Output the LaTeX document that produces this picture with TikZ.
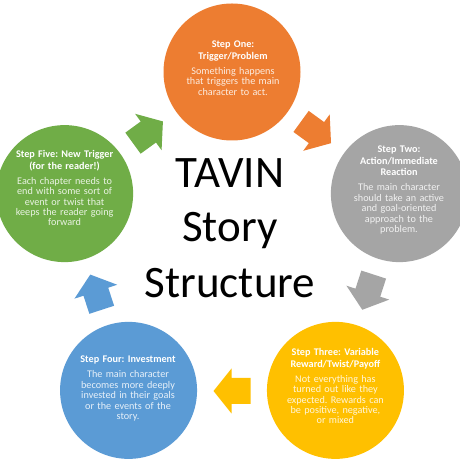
\documentclass[tikz,border=0pt]{standalone}
\usepackage{fontspec}
\setmainfont{Carlito}
\frenchspacing
\definecolor{corange}{HTML}{ED7D31}
\definecolor{cgrey}{HTML}{A5A5A5}
\definecolor{cyellow}{HTML}{FFC000}
\definecolor{cblue}{HTML}{5B9BD5}
\definecolor{cgreen}{HTML}{70AD47}
\newcommand\sttitle{\bfseries\fontsize{10.2}{11.5}\selectfont}
\newcommand\stbody{\fontsize{10.2}{10.4}\selectfont}
\tikzset{
  stepcircle/.style={circle, fill=#1, minimum size=137pt, inner sep=0pt},
  steptext/.style={text width=132pt, align=center, anchor=base, inner sep=0pt, text=white},
  bigline/.style={anchor=base, inner sep=0pt, font=\fontsize{45}{55}\selectfont, text=black},
}
\begin{document}
\begin{tikzpicture}[x=1pt,y=1pt]
\clip (0,0) rectangle (460,460);
\fill[white] (0,0) rectangle (460,460);
\begin{scope}[shift={(232,212)}]
  \node[stepcircle=corange] (c1) at (90:176) {};
  \node[stepcircle=cgrey]   (c2) at (18:176) {};
  \node[stepcircle=cyellow] (c3) at (-54:176) {};
  \node[stepcircle=cblue]   (c4) at (-126:176) {};
  \node[stepcircle=cgreen]  (c5) at (162:176) {};
  \foreach \a/\c in {54/corange, -18/cgrey, -90/cyellow, -162/cblue, 126/cgreen}{
    \fill[\c, shift={(\a:143)}, rotate=\a-90]
      (-18.5,-13) -- (0.5,-13) -- (0.5,-22.5) -- (18.5,0) -- (0.5,22.5) -- (0.5,13) -- (-18.5,13) -- cycle;
  }
\end{scope}
\node[steptext] (t1) at (233,412) {{\sttitle Step One:\\Trigger/Problem\par}\vspace{4.5pt}{\color{white!85!corange}\stbody Something happens\\that triggers the main\\character to act.\par}};
\node[steptext] (t2) at (399,307) {{\sttitle Step Two:\\Action/Immediate\\Reaction\par}\vspace{4.5pt}{\color{white!85!cgrey}\stbody The main character\\should take an active\\and goal-oriented\\approach to the\\problem.\par}};
\node[steptext] (t3) at (335.4,104) {{\sttitle Step Three: Variable\\Reward/Twist/Payoff\par}\vspace{4.5pt}{\color{white!85!cyellow}\stbody Not everything has\\turned out like they\\expected. Rewards can\\be positive, negative,\\or mixed\par}};
\node[steptext] (t4) at (128,97) {{\sttitle Step Four: Investment\par}\vspace{4.5pt}{\color{white!85!cblue}\stbody The main character\\becomes more deeply\\invested in their goals\\or the events of the\\story.\par}};
\node[steptext] (t5) at (64.6,302) {{\sttitle Step Five: New Trigger\\(for the reader!)\par}\vspace{4.5pt}{\color{white!85!cgreen}\stbody Each chapter needs to\\end with some sort of\\event or twist that\\keeps the reader going\\forward\par}};
\node[bigline] (h1) at (230,272) {TAVIN};
\node[bigline] (h2) at (230,218) {Story};
\node[bigline] (h3) at (230,162) {Structure};
\end{tikzpicture}
\end{document}
